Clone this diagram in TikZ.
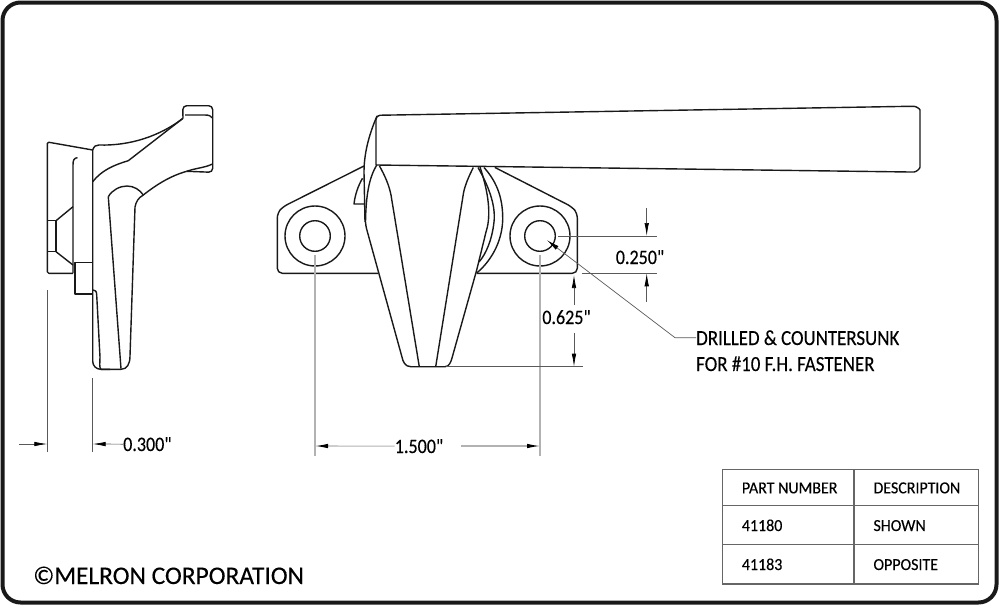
\documentclass[tikz,border=0pt]{standalone}
\usepackage{fontspec}
\setmainfont[Ligatures=TeXOff,FakeBold=0.25]{Carlito}
\newfontfamily\narrowfont[Ligatures=TeXOff,FakeBold=0.25,FakeStretch=0.88]{Carlito}
\newfontfamily\cellfont[Ligatures=TeXOff,FakeBold=0.25,FakeStretch=0.95]{Carlito}
\usetikzlibrary{arrows.meta}
\tikzset{
  outline/.style={line width=1.4pt,color=black!90,line join=round},
  dimgrey/.style={line width=1.1pt,color=black!30},
  dimthin/.style={line width=0.7pt,color=black!65},
  dimtip/.style={line width=0.7pt,color=black!65,-{Latex[length=13pt,width=4.5pt,color=black]}},
  dimtipgrey/.style={line width=1.1pt,color=black!30,-{Latex[length=13pt,width=4.5pt,color=black]}},
  label/.style={inner sep=0pt,anchor=base,font=\narrowfont\fontsize{20.5}{20}\selectfont},
  note/.style={inner sep=0pt,anchor=base west,font=\narrowfont\fontsize{21.5}{20}\selectfont},
  cell/.style={inner sep=0pt,anchor=base west,font=\cellfont\fontsize{16.8}{16}\selectfont},
  tableline/.style={line width=1.2pt,color=black!60}
}
\begin{document}
\begin{tikzpicture}[x=1pt,y=-1pt]
  \useasboundingbox (0,0) rectangle (999,605);
  \draw[line width=4pt,color=black!90,rounded corners=18pt] (2.5,2.5) rectangle (996.5,602.5);

  \coordinate (leftHole) at (315,236);
  \coordinate (rightHole) at (540,236);

  \draw[outline] (73,273) -- (73,165) .. controls (73,160) and (74,158) .. (77.5,157.7);
  \draw[outline,rounded corners=1.5pt] (92.7,150) -- (47.3,142) -- (47.3,273.3) -- (73,273.3);
  \draw[outline] (47.3,220.7) -- (56,220.7) -- (56,251.7) -- (47.3,251.7);
  \draw[outline] (56,220.7) -- (73,206.7);
  \draw[outline] (56,251.7) -- (73,265);
  \draw[outline] (75,262.7) rectangle (92.7,294);
  \draw[outline,rounded corners=8pt] (92.7,150) -- (92.7,369.3) -- (110,369.3);
  \draw[outline] (92.7,150) .. controls (94,146) and (96,145) .. (99,145) .. controls (130,146) and (160,136) .. (183,118.3);
  \draw[outline,rounded corners=4pt] (183,118.3) -- (182.7,105.7) -- (212.7,105.7) -- (212.7,172.3) -- (186.7,171.3);
  \draw[outline] (185,115) -- (205,115) .. controls (209,115) and (211,116) .. (212.5,118);
  \draw[outline] (186.7,171.3) .. controls (196,168) and (204,168) .. (212.5,164);
  \draw[outline] (183,118.3) -- (128.3,160.7) .. controls (114,165) and (102,170) .. (92.7,181.7);
  \draw[outline] (186.7,171.3) .. controls (170,176) and (156,185) .. (143.3,195);
  \draw[outline] (108.3,196.7) .. controls (112,190) and (120,186) .. (127,186) .. controls (134,186) and (140,190) .. (143.3,195) .. controls (138,198) and (136,202) .. (135,207) -- (130,356) .. controls (130,364) and (127,369.3) .. (121,369.3) -- (101,369.3) .. controls (99,368) and (100,362) .. (100,357) -- (96.7,295) .. controls (96.7,291) and (95,290) .. (93,290);
  \draw[outline] (108.3,196.7) -- (121,368.7);

  \draw[outline,rounded corners=4pt] (376,165) -- (376,115.3) -- (910,106.3) .. controls (916,106.3) and (920,109) .. (920,114) -- (920,163) .. controls (920,169) and (916,172) .. (910,172) -- (376,165);
  \draw[outline] (377,116) .. controls (371,130) and (364,150) .. (364,172) -- (365,222);
  \draw[outline] (376.7,165) .. controls (369,178) and (366,195) .. (365.5,222) .. controls (366,228) and (367,230) .. (368,234) -- (401.7,356) .. controls (403,362) and (405,366.7) .. (411,366.7) -- (445,366.7) .. controls (449,366.7) and (451,362) .. (452,358) -- (476.7,270) -- (486,232) .. controls (490,220) and (491,200) .. (480,167);
  \draw[outline] (379.5,166) .. controls (385,176) and (389,185) .. (391,195) -- (419.3,366.7);
  \draw[outline] (473.3,167.5) .. controls (469,176) and (465,185) .. (463.5,193) -- (435.7,366.7);
  \draw[outline] (484,167.5) .. controls (498,183) and (503,200) .. (502.7,220) .. controls (502,243) and (490,262) .. (476.7,273);
  \draw[outline] (478,167.5) .. controls (488,185) and (496,205) .. (494,222) .. controls (492,240) and (486,254) .. (479,262);
  \draw[outline,rounded corners=5pt] (364,166) -- (283,206.7) -- (277.3,213) -- (277.3,273.3) -- (378,273.3);
  \draw[outline,rounded corners=5pt] (495,167.5) -- (571.7,206.7) -- (577.3,213) -- (577.3,273.3) -- (476.7,273.3);
  \draw[outline] (362.5,178.3) .. controls (358,186) and (355,195) .. (354,204) -- (364.5,204);
  \draw[outline] (leftHole) circle [radius=30];
  \draw[outline] (leftHole) circle [radius=15.3];
  \draw[outline] (rightHole) circle [radius=30];
  \draw[outline] (rightHole) circle [radius=15.3];

  \draw[dimthin] (47.3,290) -- (47.3,452);
  \draw[dimthin] (92.7,378) -- (92.7,452);
  \coordinate (backEnd) at (19,444);
  \coordinate (backTip) at (47.3,444);
  \coordinate (frontTip) at (92.7,444);
  \node[label,anchor=base west] (depthLabel) at (123,451) {0.300"};
  \draw[dimtip] (depthLabel.west) -- (frontTip);
  \draw[dimtip] (backEnd) -- (backTip);

  \draw[dimgrey] (315,255) -- (315,456);
  \draw[dimgrey] (540,255) -- (540,456);
  \node[label] (spanLabel) at (419,453) {1.500"};
  \coordinate (spanLeft) at (315,446);
  \coordinate (spanRight) at (540,446);
  \coordinate (spanGap) at (461,446);
  \draw[dimtipgrey] (spanLabel.west) -- (spanLeft);
  \draw[dimtipgrey] (spanGap) -- (spanRight);

  \draw[dimthin] (558.3,236) -- (656.7,236);
  \draw[dimthin] (582.3,273.3) -- (656.7,273.3);
  \draw[dimthin] (446,366.7) -- (583.3,366.7);
  \node[label] (holeLabel) at (640,264) {0.250"};
  \coordinate (holeTopEnd) at (646.7,208);
  \coordinate (holeTopTip) at (646.7,236);
  \coordinate (holeLowEnd) at (646.7,302);
  \coordinate (holeLowTip) at (646.7,273.3);
  \draw[dimtip] (holeTopEnd) -- (holeTopTip);
  \draw[dimtip] (holeLowEnd) -- (holeLowTip);
  \node[label] (dropLabel) at (566.5,324) {0.625"};
  \coordinate (dropTopEnd) at (574,305);
  \coordinate (dropTopTip) at (574,275);
  \coordinate (dropLowEnd) at (574,333);
  \coordinate (dropLowTip) at (574,366.7);
  \draw[dimtip] (dropTopEnd) -- (dropTopTip);
  \draw[dimtip] (dropLowEnd) -- (dropLowTip);

  \node[note] (drillNote) at (696,345) {DRILLED \& COUNTERSUNK};
  \node[note] (fastNote) at (696,371) {FOR \#10 F.H. FASTENER};
  \coordinate (leaderBend) at (675,337.7);
  \coordinate (leaderTip) at (546.7,240);
  \draw[dimthin] (drillNote.west) -- (leaderBend);
  \draw[dimtip] (leaderBend) -- (leaderTip);

  \draw[tableline] (722.7,469.3) rectangle (978.3,584);
  \draw[tableline] (722.7,505.7) -- (978.3,505.7);
  \draw[tableline] (722.7,544.7) -- (978.3,544.7);
  \draw[tableline] (854,469.3) -- (854,584);
  \node[cell] (partHead) at (741.7,493.3) {PART NUMBER};
  \node[cell] (descHead) at (873.3,493.3) {DESCRIPTION};
  \node[cell] (partOne) at (741.7,531) {41180};
  \node[cell] (descOne) at (873.3,531) {SHOWN};
  \node[cell] (partTwo) at (741.7,570) {41183};
  \node[cell] (descTwo) at (873.3,570) {OPPOSITE};

  \node[inner sep=0pt,anchor=base west,font=\fontsize{25.4}{25}\selectfont] (maker) at (33,584) {©MELRON CORPORATION};
\end{tikzpicture}
\end{document}
